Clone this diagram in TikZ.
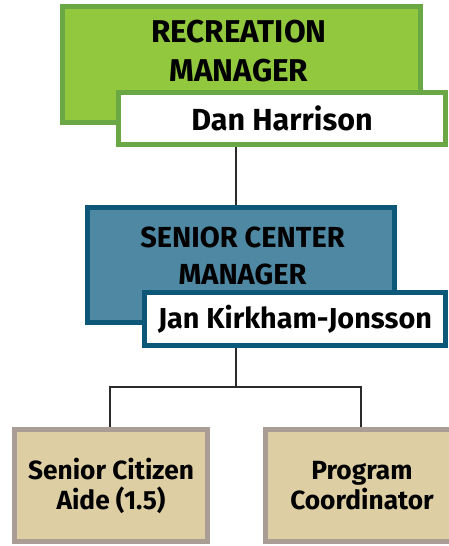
\documentclass[tikz,border=0pt]{standalone}
\usepackage{fontspec}
\setmainfont{Fira Sans}
\definecolor{recfill}{HTML}{92C83E}
\definecolor{recline}{HTML}{6AA845}
\definecolor{scfill}{HTML}{4F88A2}
\definecolor{scline}{HTML}{0D5878}
\definecolor{stafffill}{HTML}{DDCFA3}
\definecolor{staffline}{HTML}{A99D95}
\definecolor{wire}{HTML}{2B2B2B}
\tikzset{
  orgbox/.style={draw, rectangle, line width=5pt, inner sep=0pt, align=center, font=\bfseries},
  namebox/.style={orgbox, fill=white, font=\bfseries\fontsize{30.5}{34}\selectfont},
  orgtitle/.style={inner sep=0pt, align=center},
  wireline/.style={draw=wire, line width=2pt}
}
\begin{document}
\begin{tikzpicture}[x=1pt,y=-1pt]
  \useasboundingbox (0,0) rectangle (449,546);

  % recreation manager
  \node[orgbox, fill=recfill, draw=recline, minimum width=358pt, minimum height=116pt] (rec) at (241.5,64.5) {};
  \node[orgtitle, font=\bfseries\fontsize{31.5}{39}\selectfont] (rectitle) at (239,51.5) {RECREATION\\MANAGER};
  \node[namebox, draw=recline, minimum width=327pt, minimum height=52pt] (dan) at (282,118.5) {Dan Harrison};

  % senior center manager
  \node[orgbox, fill=scfill, draw=scline, minimum width=307pt, minimum height=115pt] (sc) at (241,265) {};
  \node[orgtitle, font=\bfseries\fontsize{29}{37}\selectfont] (sctitle) at (242.5,255.5) {SENIOR CENTER\\MANAGER};
  \node[namebox, draw=scline, font=\bfseries\fontsize{28.8}{33}\selectfont, minimum width=301pt, minimum height=53pt] (jan) at (295,319) {Jan Kirkham-Jonsson};

  % staff
  \node[orgbox, fill=stafffill, draw=staffline, font=\bfseries\fontsize{26.3}{30}\selectfont, minimum width=193pt, minimum height=112pt] (aide) at (111,485.5) {Senior Citizen\\Aide (1.5)};
  \node[orgbox, fill=stafffill, draw=staffline, font=\bfseries\fontsize{26.3}{30}\selectfont, minimum width=193pt, minimum height=112pt] (coord) at (362,485.5) {Program\\Coordinator};

  \coordinate (fork) at (236,386.5);
  \draw[wireline] (fork |- dan.south) -- (fork |- sc.north);
  \draw[wireline] (fork |- jan.south) -- (fork);
  \draw[wireline] (aide.north -| 110,0) |- (fork) -| (coord.north -| 361,0);
\end{tikzpicture}
\end{document}
